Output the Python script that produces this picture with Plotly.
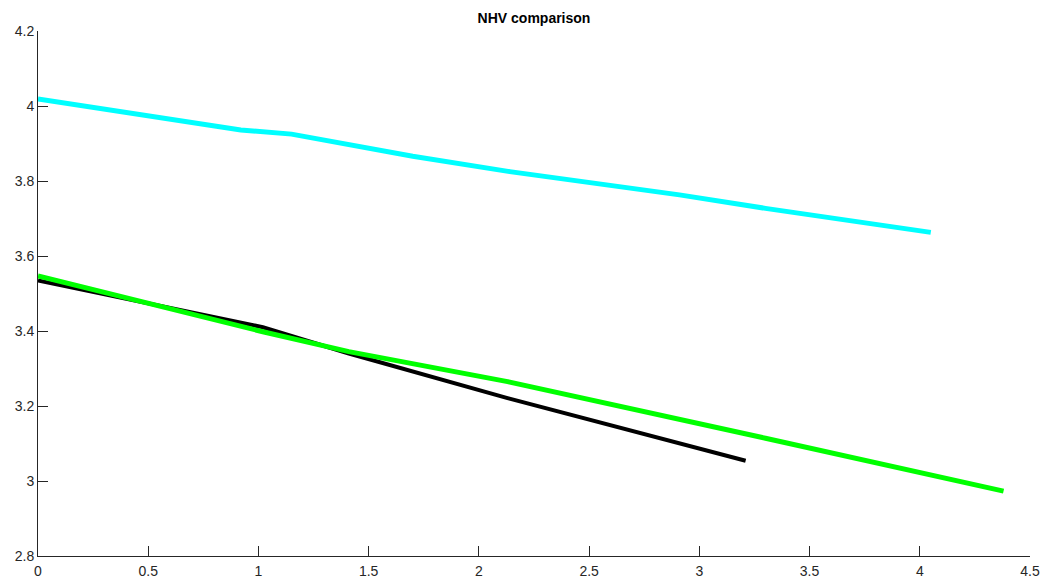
import plotly.graph_objects as go

# Data
cyan_x = [0, 0.92, 1.15, 1.7, 2.14, 2.91, 3.30, 4.05]
cyan_y = [4.019, 3.936, 3.925, 3.866, 3.825, 3.763, 3.727, 3.663]

black_x = [0, 1.02, 1.41, 2.13, 3.21]
black_y = [3.535, 3.41, 3.34, 3.221, 3.054]

green_x = [0, 1.02, 1.41, 2.13, 3.30, 4.38]
green_y = [3.547, 3.398, 3.345, 3.265, 3.114, 2.973]

x_ticks = [0, 0.5, 1, 1.5, 2, 2.5, 3, 3.5, 4, 4.5]
x_tick_labels = ["0", "0.5", "1", "1.5", "2", "2.5", "3", "3.5", "4", "4.5"]
y_ticks = [2.8, 3, 3.2, 3.4, 3.6, 3.8, 4, 4.2]
y_tick_labels = ["2.8", "3", "3.2", "3.4", "3.6", "3.8", "4", "4.2"]

fig = go.Figure()
fig.add_trace(go.Scatter(x=cyan_x, y=cyan_y, mode="lines",
                         line=dict(color="#00FFFF", width=5), showlegend=False))
fig.add_trace(go.Scatter(x=black_x, y=black_y, mode="lines",
                         line=dict(color="#000000", width=4), showlegend=False))
fig.add_trace(go.Scatter(x=green_x, y=green_y, mode="lines",
                         line=dict(color="#00FF00", width=5), showlegend=False))

axis_common = dict(
    showgrid=False, zeroline=False, showline=True, linecolor="#262626",
    linewidth=1, ticks="inside", ticklen=10, tickcolor="#262626", tickwidth=1,
    tickfont=dict(family="Liberation Sans, Arial, sans-serif", size=14, color="#262626"),
    mirror=False, automargin=False,
)

fig.update_layout(
    width=1043, height=580,
    margin=dict(l=38, r=13, t=31, b=24),
    paper_bgcolor="white", plot_bgcolor="white",
    title=dict(text="<b>NHV comparison</b>", x=0.5, xref="paper",
               y=1 - 18 / 580, yref="container", yanchor="middle", xanchor="center",
               font=dict(family="Liberation Sans, Arial, sans-serif", size=14, color="#000000"),
               automargin=False),
    xaxis=dict(range=[0, 4.5], tickvals=x_ticks, ticktext=x_tick_labels,
               ticklabelstandoff=2, **axis_common),
    yaxis=dict(range=[2.8, 4.2], tickvals=y_ticks, ticktext=y_tick_labels, **axis_common),
)

fig.write_html(
    "out.html",
    config={"displayModeBar": False},
    post_script="document.body.style.margin='0';document.body.style.overflow='hidden';",
)
